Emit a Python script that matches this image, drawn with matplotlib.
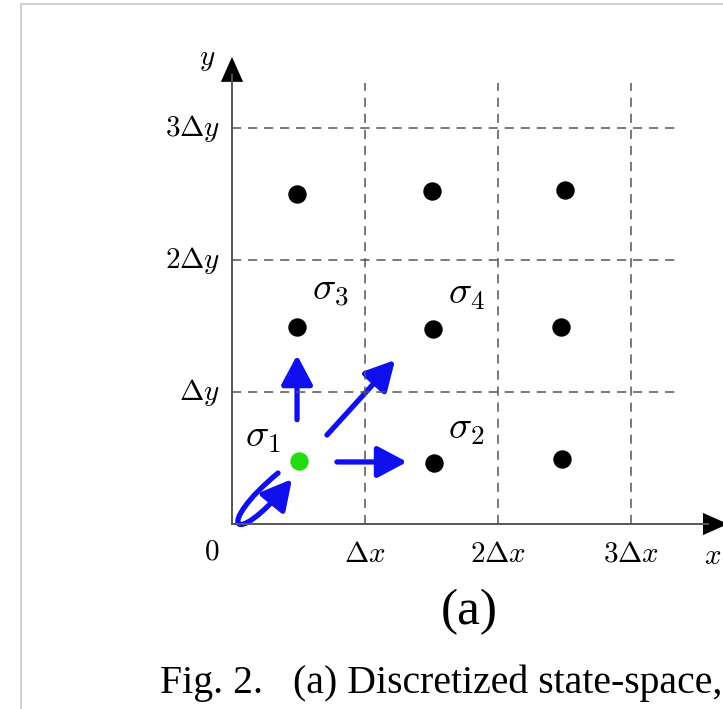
import numpy as np
import matplotlib
matplotlib.use("Agg")
import matplotlib.pyplot as plt
from matplotlib.patches import FancyArrowPatch
from matplotlib.path import Path

plt.rcParams['mathtext.fontset'] = 'cm'

# grid cells (units of dx, dy)
dot_x = [0.49, 1.50, 2.50, 0.49, 1.51, 2.47, 1.52, 2.48]
dot_y = [2.50, 2.52, 2.53, 1.49, 1.48, 1.49, 0.46, 0.49]
start_x, start_y = 0.50, 0.48

ticks = [1, 2, 3]
xtick_labels = [r'$\Delta x$', r'$2\Delta x$', r'$3\Delta x$']
ytick_labels = [r'$\Delta y$', r'$2\Delta y$', r'$3\Delta y$']

sigma_labels = [r'$\sigma_1$', r'$\sigma_2$', r'$\sigma_3$', r'$\sigma_4$']
sigma_x = [0.23, 1.76, 0.74, 1.76]
sigma_y = [0.67, 0.73, 1.77, 1.75]

# transitions from the start cell: (x0, y0, x1, y1)
moves = [(0.489, 0.79, 0.489, 1.28),
         (0.714, 0.674, 1.226, 1.242),
         (0.789, 0.470, 1.316, 0.470)]
# self-loop as a cubic bezier
loop_pts = [(0.346, 0.386), (-0.128, -0.008), (0.0, -0.212), (0.451, 0.340)]

fig = plt.figure(figsize=(7.23, 7.09), dpi=100)
ax = fig.add_axes([0, 0, 1, 1])
ax.set_xlim(-232 / 133, 491 / 133)
ax.set_ylim(-185 / 132, 524 / 132)
ax.axis('off')

# frame of the page crop
ax.plot([-211 / 133, -211 / 133, 4], [-2, 520 / 132, 520 / 132], color='#c8c8c8', lw=1.2)

# dashed grid
for t in ticks:
    ax.plot([t, t], [0, 3.34], ls=(0, (6, 4.5)), color='#555555', lw=1.1)
    ax.plot([0, 3.37], [t, t], ls=(0, (6, 4.5)), color='#555555', lw=1.1)

# axes with arrows
ax.plot([0, 0], [0, 3.40], color='#555555', lw=1.4)
ax.plot([0, 3.58], [0, 0], color='#555555', lw=1.4)
ax.add_patch(FancyArrowPatch((0, 3.35), (0, 3.56), arrowstyle='-|>,head_length=0.9,head_width=0.4',
                             mutation_scale=20, color='black', lw=0))
ax.add_patch(FancyArrowPatch((3.55, 0), (3.75, 0), arrowstyle='-|>,head_length=0.9,head_width=0.4',
                             mutation_scale=20, color='black', lw=0))

for t, lx, ly in zip(ticks, xtick_labels, ytick_labels):
    ax.text(t, -0.12, lx, fontsize=21, ha='center', va='top')
    ax.text(-0.09, t, ly, fontsize=21, ha='right', va='center')
ax.text(-0.15, -0.10, r'$0$', fontsize=21, ha='center', va='top')
ax.text(3.61, -0.14, r'$x$', fontsize=21, ha='center', va='top')
ax.text(-0.19, 3.52, r'$y$', fontsize=21, ha='center', va='center')

ax.scatter(dot_x, dot_y, s=150, color='black', zorder=3)
ax.scatter([start_x], [start_y], s=150, color='#22dd11', zorder=3)

for lab, sx, sy in zip(sigma_labels, sigma_x, sigma_y):
    ax.text(sx, sy, lab, fontsize=28, ha='center', va='center')

blue = '#1010ee'
for x0, y0, x1, y1 in moves:
    ax.add_patch(FancyArrowPatch((x0, y0), (x1, y1),
                                 arrowstyle='-|>,head_length=0.9,head_width=0.48',
                                 mutation_scale=20, color=blue, lw=3.8, shrinkA=0, shrinkB=0))
loop = Path(loop_pts, [Path.MOVETO, Path.CURVE4, Path.CURVE4, Path.CURVE4])
ax.add_patch(FancyArrowPatch(path=loop, arrowstyle='-|>,head_length=0.9,head_width=0.48',
                             mutation_scale=20, color=blue, lw=3.8))

ax.text((469 - 232) / 133, (524 - 612) / 132, '(a)', fontsize=37, family='Liberation Serif',
        ha='center', va='center')
ax.text((160 - 232) / 133, (524 - 683) / 132, 'Fig. 2.   (a) Discretized state-space,', fontsize=28.6,
        family='Liberation Serif', ha='left', va='center')

fig.savefig('out.png', dpi=100)
